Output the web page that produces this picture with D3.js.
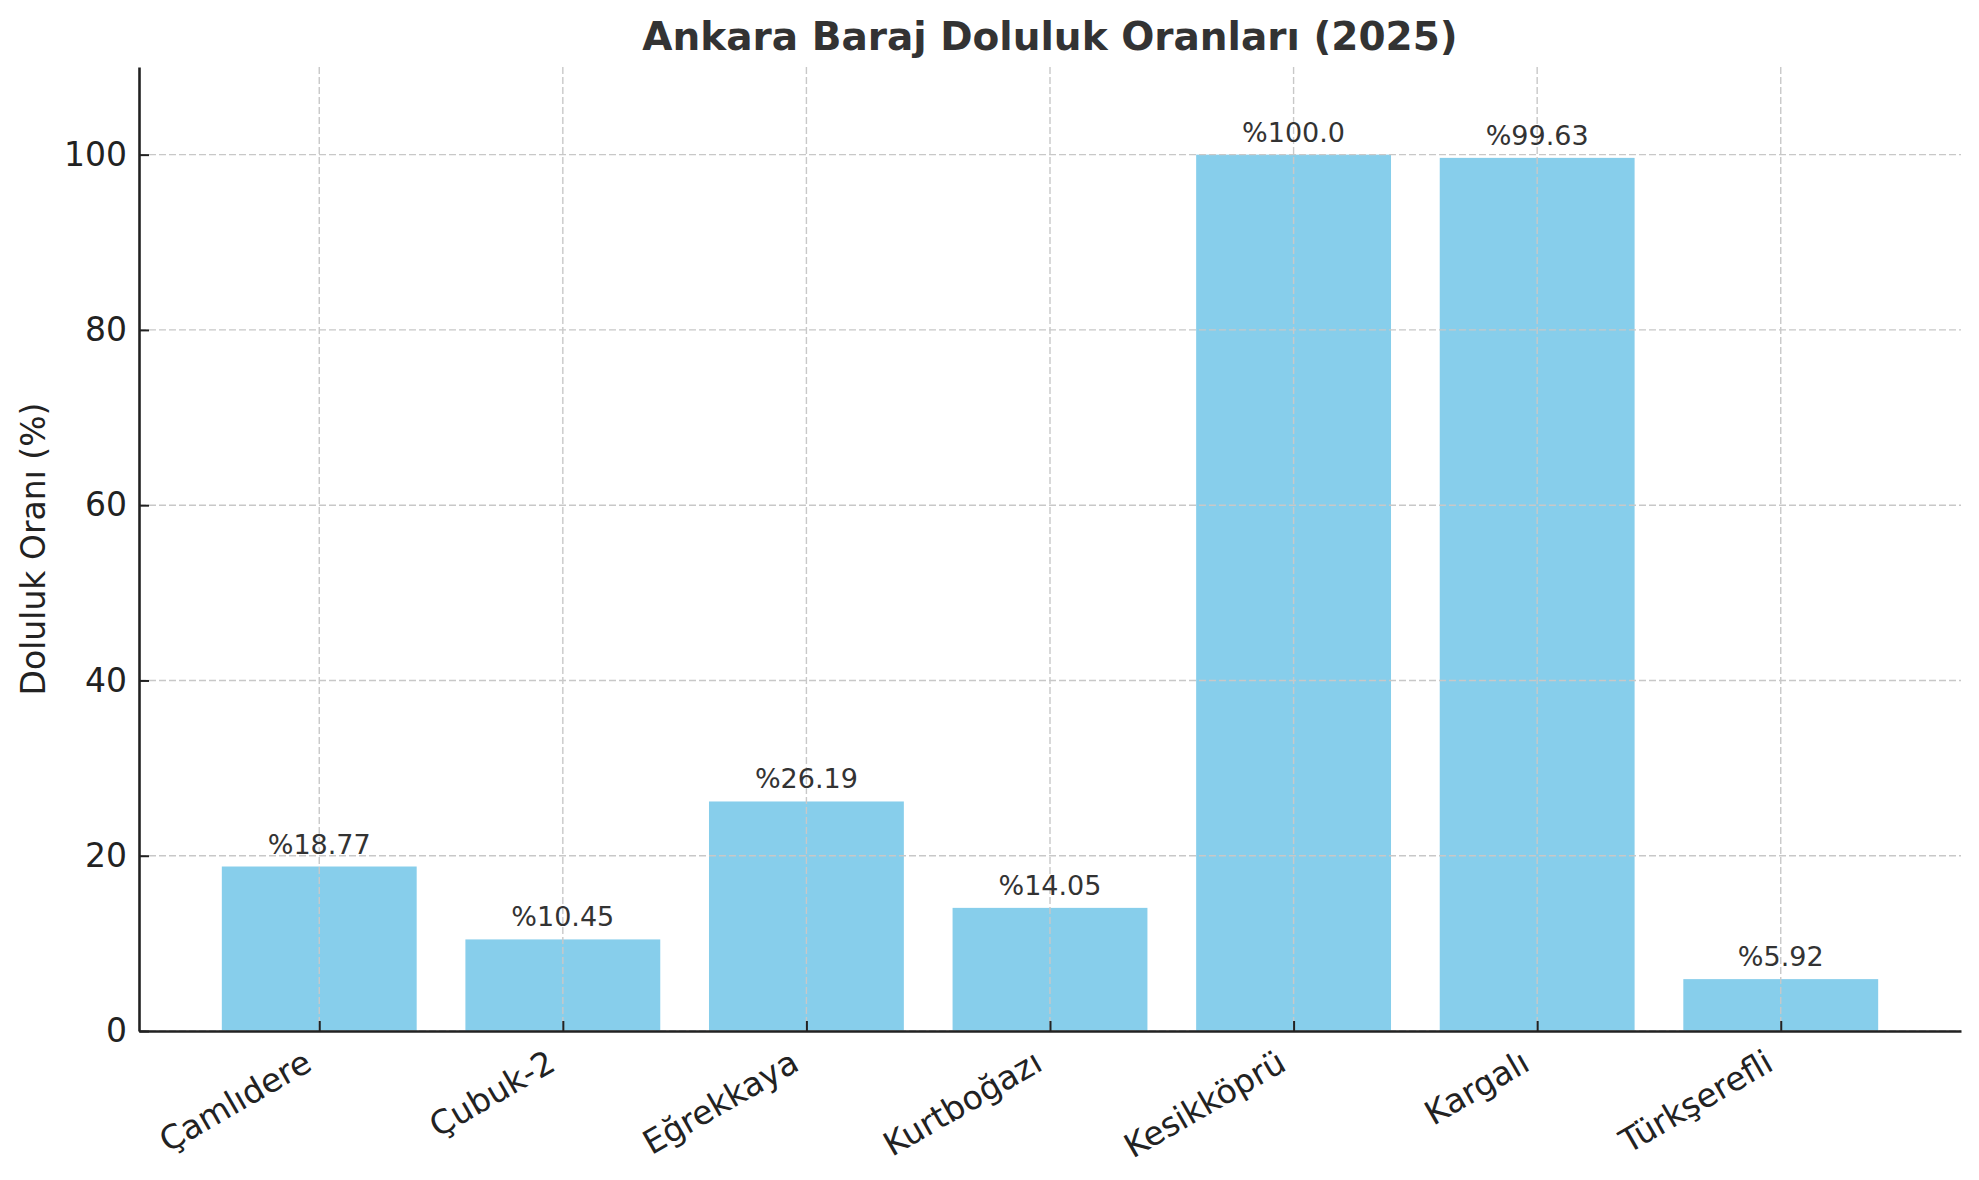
<!DOCTYPE html>
<html>
<head>
<meta charset="utf-8">
<script src="https://cdn.jsdelivr.net/npm/d3@7"></script>
<style>
  body { margin: 0; background: #fff; }
  svg { display: block; font-family: "DejaVu Sans", sans-serif; }
</style>
</head>
<body>
<div id="chart"></div>
<script>
// Baraj isimleri ve doluluk oranlari
var barajlar = ["Çamlıdere", "Çubuk-2", "Eğrekkaya", "Kurtboğazı", "Kesikköprü", "Kargalı", "Türkşerefli"];
var oranlar = [18.77, 10.45, 26.19, 14.05, 100.0, 99.63, 5.92];
var etiketler = ["%18.77", "%10.45", "%26.19", "%14.05", "%100.0", "%99.63", "%5.92"];
var yTicks = [0, 20, 40, 60, 80, 100];

var width = 1979, height = 1180;
var margin = {left: 139, right: 18, top: 67, bottom: 149};
var plotW = width - margin.left - margin.right;
var plotH = height - margin.top - margin.bottom;

// x: kategori indeksleri, matplotlib gibi -0.74 .. 6.74
var xScale = d3.scaleLinear()
    .domain([-0.74, barajlar.length - 1 + 0.74])
    .range([0, plotW]);
var barW = xScale(0.8) - xScale(0);

var yScale = d3.scaleLinear()
    .domain([0, 110])
    .range([plotH, 0]);

var svg = d3.select("#chart").append("svg")
    .attr("width", width)
    .attr("height", height);

var g = svg.append("g")
    .attr("transform", "translate(" + margin.left + "," + margin.top + ")");

// cubuklar
g.selectAll("rect.bar")
  .data(oranlar)
  .enter()
  .append("rect")
    .attr("class", "bar")
    .attr("x", function(d, i) { return xScale(i) - barW / 2; })
    .attr("y", function(d) { return yScale(d); })
    .attr("width", barW)
    .attr("height", function(d) { return plotH - yScale(d); })
    .style("fill", "#87ceeb");

// izgara (cubuklarin ustunde)
var grid = g.append("g").attr("class", "grid");
grid.selectAll("line.h")
  .data(yTicks)
  .enter()
  .append("line")
    .attr("x1", 0).attr("x2", plotW)
    .attr("y1", function(d) { return yScale(d); })
    .attr("y2", function(d) { return yScale(d); });
grid.selectAll("line.v")
  .data(barajlar)
  .enter()
  .append("line")
    .attr("x1", function(d, i) { return xScale(i); })
    .attr("x2", function(d, i) { return xScale(i); })
    .attr("y1", 0).attr("y2", plotH);
grid.selectAll("line")
    .style("stroke", "#c8c8c8")
    .style("stroke-width", "1.4px")
    .style("stroke-dasharray", "7,3");

// deger etiketleri
g.selectAll("text.deger")
  .data(oranlar)
  .enter()
  .append("text")
    .attr("class", "deger")
    .attr("x", function(d, i) { return xScale(i); })
    .attr("y", function(d) { return yScale(d) - 13; })
    .attr("text-anchor", "middle")
    .style("font-size", "27px")
    .style("fill", "#333")
    .text(function(d, i) { return etiketler[i]; });

// y ekseni
var yAxis = d3.axisLeft(yScale)
    .tickValues(yTicks)
    .tickSizeInner(-10)
    .tickSizeOuter(0)
    .tickPadding(12)
    .tickFormat(d3.format("d"));
var yg = g.append("g").call(yAxis);

// x ekseni
var xAxis = d3.axisBottom(xScale)
    .tickValues(d3.range(barajlar.length))
    .tickSizeInner(-10)
    .tickSizeOuter(0)
    .tickFormat(function(d) { return barajlar[d]; });
var xg = g.append("g")
    .attr("transform", "translate(0," + plotH + ")")
    .call(xAxis);

[yg, xg].forEach(function(a) {
    a.select(".domain").style("stroke", "#222").style("stroke-width", "2.6px");
    a.selectAll(".tick line").style("stroke", "#222").style("stroke-width", "2px");
    a.selectAll(".tick text")
        .style("font-family", "DejaVu Sans")
        .style("font-size", "33px")
        .style("fill", "#222");
});

xg.selectAll(".tick text")
    .attr("text-anchor", "end")
    .attr("dy", null)
    .attr("y", null)
    .attr("transform", "translate(-6,38) rotate(-30)");

// y ekseni basligi
svg.append("text")
    .attr("transform", "translate(45," + (margin.top + plotH / 2) + ") rotate(-90)")
    .attr("text-anchor", "middle")
    .style("font-size", "33px")
    .style("fill", "#222")
    .text("Doluluk Oranı (%)");

// baslik
svg.append("text")
    .attr("x", margin.left + plotW / 2)
    .attr("y", 50)
    .attr("text-anchor", "middle")
    .style("font-size", "39px")
    .style("font-weight", "bold")
    .style("fill", "#333")
    .text("Ankara Baraj Doluluk Oranları (2025)");
</script>
</body>
</html>
